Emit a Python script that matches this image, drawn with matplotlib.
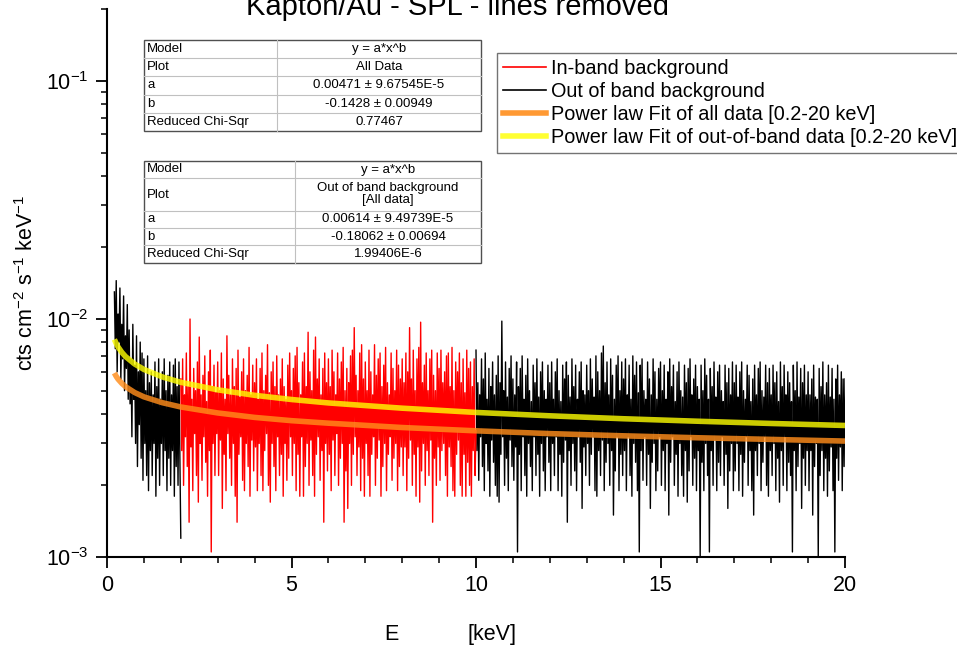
import numpy as np
import matplotlib
matplotlib.use('Agg')
import matplotlib.pyplot as plt
from matplotlib.patches import Rectangle
from matplotlib.lines import Line2D
from matplotlib.ticker import LogLocator, MultipleLocator, NullFormatter

plt.rcParams['font.family'] = ['Liberation Sans', 'DejaVu Sans']
plt.rcParams['mathtext.fontset'] = 'custom'
plt.rcParams['mathtext.rm'] = 'Liberation Sans'
plt.rcParams['mathtext.it'] = 'Liberation Sans:italic'
plt.rcParams['mathtext.default'] = 'regular'

# ---------------- data (units of 1e-3 cts cm^-2 s^-1 keV^-1) ----------------
# Spectra read as the local maximum / minimum in every 0.05 keV bin.
unit = 1e-3
e_bin = 0.05

# out-of-band, low energy: bins 0.20 .. 1.95 keV, last channel at 2.00 keV
oob_low_start = 0.20
oob_low_max = [13.0, 14.5, 10.5, 13.5, 9.5, 12.5, 8.5, 11.5,
               9.0, 6.8, 9.5, 6.4, 8.5, 6.0, 8.0, 7.2,
               6.8, 5.0, 7.0, 5.4, 6.0, 4.8, 6.6, 5.2, 6.8, 4.6, 6.0, 6.8, 5.0, 5.8, 6.6, 4.8, 6.4, 6.8, 5.2, 6.6]
oob_low_min = [7.5, 6.0, 8.0, 5.6, 6.8, 5.0, 6.2, 4.6,
               4.4, 3.2, 4.6, 3.0, 2.4, 3.6, 2.6, 2.1,
               3.0, 2.2, 1.9, 2.8, 2.2, 3.0, 1.8, 2.6, 2.0, 3.0, 2.2, 2.8, 1.9, 2.6, 2.0, 2.8, 1.8, 2.4, 2.0, 2.6]
oob_low_last = 1.2

# in-band: bins 2.00 .. 9.95 keV, last channel at 10.00 keV
inband_start = 2.00
inband_max = [
    5.6, 6.8, 4.8, 7.2, 5.2, 10.0, 4.6, 6.2, 5.0, 6.6, 8.4, 4.8, 5.8, 7.0, 4.5, 6.0, 7.4, 5.2, 6.4, 4.9,
    6.6, 5.0, 7.2, 5.6, 4.6, 8.5, 5.8, 4.8, 6.8, 5.2, 6.2, 7.4, 4.7, 6.0, 6.8, 5.0, 5.8, 7.6, 4.8, 6.4,
    5.4, 6.8, 4.6, 6.2, 7.2, 5.0, 5.8, 7.8, 4.9, 6.0, 6.6, 5.2, 7.0, 4.8, 5.6, 6.8, 5.2, 4.6, 6.4, 7.2,
    5.0, 6.2, 7.0, 7.6, 5.4, 4.8, 6.6, 7.2, 5.2, 8.8, 6.0, 5.0, 7.4, 8.4, 5.6, 6.8, 4.8, 6.2, 7.2, 5.4,
    6.8, 5.2, 7.4, 6.0, 4.8, 7.2, 5.6, 6.6, 7.6, 5.0, 6.2, 5.4, 7.0, 7.4, 9.2, 5.8, 5.0, 7.2, 7.8, 5.6,
    6.6, 5.0, 7.4, 6.0, 4.8, 7.8, 5.8, 6.8, 7.2, 5.2, 6.4, 7.6, 5.4, 4.8, 7.2, 6.2, 5.0, 7.4, 6.4, 5.6,
    6.8, 5.4, 7.2, 6.0, 9.2, 5.6, 7.4, 5.0, 6.8, 7.6, 9.7, 5.4, 6.4, 7.2, 5.0, 6.8, 7.4, 5.8, 5.0, 7.2,
    6.2, 7.4, 5.4, 6.0, 7.0, 7.2, 5.2, 7.6, 5.0, 6.6, 6.0, 7.2, 5.4, 6.8, 4.9, 7.4, 6.2, 6.6, 5.2, 6.8]
inband_min = [
    2.8, 2.0, 3.2, 2.4, 1.4, 2.9, 1.9, 3.3, 2.2, 1.7, 3.0, 2.1, 3.2, 2.5, 1.8, 2.8, 1.05, 3.0, 2.2, 3.3,
    2.2, 3.1, 1.6, 2.7, 1.9, 3.3, 2.6, 2.0, 3.0, 1.8, 1.4, 2.7, 3.2, 2.1, 1.9, 3.0, 2.4, 1.8, 3.1, 2.3,
    2.9, 1.9, 3.0, 2.2, 1.9, 2.8, 3.3, 2.0, 1.7, 3.0, 2.4, 1.9, 3.2, 2.2, 2.7, 1.8, 3.0, 2.1, 2.6, 3.2,
    2.2, 3.0, 1.9, 2.7, 1.8, 3.2, 1.8, 2.4, 3.0, 2.0, 3.1, 2.2, 1.8, 2.7, 3.2, 2.1, 2.8, 1.4, 3.0, 2.3,
    2.7, 1.9, 3.1, 2.2, 3.3, 2.0, 2.6, 3.0, 1.4, 2.3, 1.6, 3.0, 2.0, 2.7, 3.2, 2.2, 2.9, 1.9, 2.6, 1.8,
    3.0, 2.2, 1.8, 2.7, 3.2, 2.0, 2.6, 3.1, 1.8, 2.4, 3.0, 1.9, 2.7, 3.2, 2.1, 2.6, 3.0, 1.9, 2.4, 2.9,
    2.2, 2.9, 1.9, 2.6, 3.1, 2.0, 2.7, 1.8, 2.9, 1.7, 2.3, 3.0, 2.0, 2.8, 2.2, 3.1, 1.4, 2.6, 2.0, 2.9,
    2.1, 2.8, 3.0, 2.2, 1.8, 2.9, 2.4, 1.9, 1.8, 2.7, 3.1, 2.0, 1.8, 2.7, 1.8, 2.5, 2.0, 1.8, 2.8, 2.2]
inband_last = 3.4

# out-of-band, high energy: bins 10.00 .. 19.95 keV, last channel at 20.00 keV
oob_high_start = 10.00
oob_high_max = [
    7.4, 5.4, 4.8, 6.8, 5.6, 7.2, 4.6, 6.2, 5.2, 6.6, 4.8, 5.8, 7.0, 5.4, 9.8, 5.0, 6.6, 4.7, 6.2, 7.0,
    5.6, 4.8, 6.6, 5.2, 6.2, 7.0, 4.6, 5.8, 6.8, 5.0, 4.5, 6.4, 5.4, 6.8, 4.7, 6.0, 6.6, 5.0, 4.6, 6.4,
    5.4, 6.6, 4.6, 6.0, 6.8, 5.0, 4.5, 6.4, 5.6, 6.6, 5.8, 4.7, 6.8, 5.2, 6.4, 4.6, 6.0, 6.6, 5.0, 4.8,
    6.4, 5.0, 6.8, 5.6, 4.7, 7.0, 6.0, 5.0, 7.2, 7.7, 5.4, 6.6, 4.8, 6.8, 5.8, 4.6, 6.4, 7.0, 5.0, 6.6,
    5.6, 6.8, 4.8, 6.4, 4.6, 7.0, 5.8, 6.6, 4.9, 6.4, 6.8, 5.0, 4.6, 6.6, 5.6, 4.8, 6.8, 6.0, 4.6, 6.2,
    6.6, 5.0, 6.4, 4.6, 6.0, 6.8, 5.2, 6.4, 4.5, 6.0, 6.6, 5.0, 4.7, 6.4, 5.4, 6.2, 6.8, 4.8, 5.6, 6.4,
    5.2, 4.6, 6.4, 5.0, 6.8, 5.8, 4.6, 6.2, 5.2, 6.6, 4.7, 6.0, 6.4, 5.0, 4.5, 6.4, 5.4, 6.2, 4.8, 6.6,
    5.4, 6.4, 4.7, 6.0, 6.6, 5.0, 4.6, 6.4, 5.8, 4.5, 5.6, 6.4, 4.8, 6.2, 6.6, 5.0, 4.7, 6.4, 5.4, 6.2,
    4.8, 6.4, 5.4, 6.0, 4.5, 6.6, 5.2, 6.4, 4.8, 6.0, 5.4, 4.5, 6.4, 5.0, 6.6, 4.7, 6.2, 5.4, 6.4, 4.8,
    6.0, 4.8, 5.6, 6.4, 4.7, 4.6, 6.2, 5.2, 6.6, 4.8, 5.4, 6.4, 4.7, 6.2, 4.6, 5.6, 6.4, 4.8, 6.0, 5.6]
oob_high_min = [
    2.8, 2.1, 3.2, 2.4, 1.9, 3.0, 2.3, 1.8, 3.1, 2.5, 2.0, 1.8, 1.7, 2.7, 3.2, 2.0, 2.6, 1.9, 3.1, 2.4,
    2.1, 2.9, 1.05, 2.7, 1.9, 3.2, 2.2, 1.8, 3.0, 2.4, 1.9, 3.2, 2.2, 2.7, 1.8, 3.0, 2.3, 1.9, 3.2, 2.5,
    1.9, 3.0, 2.2, 3.2, 1.9, 2.7, 1.8, 2.5, 3.1, 1.4, 2.8, 2.0, 3.0, 2.3, 1.9, 3.2, 2.5, 1.6, 2.9, 2.2,
    3.0, 2.0, 2.7, 3.2, 1.9, 1.8, 2.8, 2.2, 3.1, 1.9, 2.5, 3.0, 2.0, 2.8, 1.5, 2.3, 3.2, 1.9, 2.7, 2.2,
    2.8, 1.9, 3.2, 2.2, 1.8, 3.0, 2.5, 1.9, 1.05, 2.8, 2.1, 3.2, 2.0, 2.7, 1.6, 2.5, 3.0, 1.9, 2.3, 3.2,
    2.0, 2.8, 1.9, 3.0, 1.5, 2.5, 3.2, 2.0, 2.7, 1.8, 3.0, 2.2, 1.8, 2.8, 1.7, 2.3, 3.2, 2.0, 2.6, 1.9,
    2.8, 1.0, 2.5, 1.9, 3.0, 2.2, 1.05, 2.8, 2.0, 3.1, 1.9, 2.5, 2.2, 3.2, 2.0, 2.7, 1.6, 2.3, 3.0, 1.9,
    2.3, 3.0, 1.9, 2.7, 1.8, 2.5, 3.2, 2.0, 2.8, 1.9, 1.5, 2.8, 2.2, 3.0, 1.9, 2.5, 3.2, 2.0, 1.8, 2.8,
    2.2, 3.0, 1.9, 2.6, 1.7, 2.8, 2.0, 3.2, 1.9, 2.5, 2.2, 1.05, 2.8, 1.9, 2.4, 3.0, 1.6, 2.6, 2.0, 2.8,
    1.9, 2.8, 1.5, 2.4, 3.0, 1.0, 2.2, 2.8, 1.9, 2.6, 1.8, 2.3, 2.9, 1.9, 1.05, 2.6, 2.1, 2.9, 1.9, 2.4]
oob_high_last = 5.6

# power-law fit curves read at sample energies
fit_E = [0.2, 0.25, 0.3, 0.4, 0.5, 0.75, 1, 1.5, 2, 3, 4, 5, 6, 8, 10, 12, 14, 16, 18, 20]
fit_all = [5.93, 5.74, 5.59, 5.37, 5.20, 4.91, 4.71, 4.45, 4.27, 4.03, 3.86, 3.74, 3.65, 3.50,
           3.39, 3.30, 3.23, 3.17, 3.12, 3.07]
fit_oob = [8.21, 7.89, 7.63, 7.25, 6.96, 6.47, 6.14, 5.71, 5.42, 5.04, 4.78, 4.59, 4.44, 4.22,
           4.05, 3.92, 3.81, 3.72, 3.64, 3.57]

legend_labels = ['In-band background', 'Out of band background',
                 'Power law Fit of all data [0.2-20 keV]',
                 'Power law Fit of out-of-band data [0.2-20 keV]']

table1 = [('Model', 'y = a*x^b'), ('Plot', 'All Data'),
          ('a', '0.00471 \u00b1 9.67545E-5'), ('b', '-0.1428 \u00b1 0.00949'),
          ('Reduced Chi-Sqr', '0.77467')]
table2 = [('Model', 'y = a*x^b'), ('Plot', 'Out of band background\n[All data]'),
          ('a', '0.00614 \u00b1 9.49739E-5'), ('b', '-0.18062 \u00b1 0.00694'),
          ('Reduced Chi-Sqr', '1.99406E-6')]

title = 'Kapton/Au - SPL - lines removed'


def spectrum(start, vmax, vmin, last):
    """Channel trace: max and min of each bin, alternating, then the last channel."""
    n = len(vmax)
    e = start + e_bin * np.arange(n)
    x = np.empty(2 * n + 1)
    y = np.empty(2 * n + 1)
    x[0:2 * n:2] = e
    x[1:2 * n:2] = e + e_bin / 2
    x[-1] = start + e_bin * n
    y[0:2 * n:2] = vmax
    y[1:2 * n:2] = vmin
    y[-1] = last
    return x, y * unit


# ---------------- figure ----------------
W, H = 957, 645
fig = plt.figure(figsize=(W / 100, H / 100), dpi=100)
ax = fig.add_axes([107 / W, 1 - 557 / H, (845 - 107) / W, (557 - 9.4) / H])

data_lw = 1.0
x, y = spectrum(oob_low_start, oob_low_max, oob_low_min, oob_low_last)
ax.plot(x, y, color='black', lw=data_lw, zorder=2)
x, y = spectrum(oob_high_start, oob_high_max, oob_high_min, oob_high_last)
ax.plot(x, y, color='black', lw=data_lw, zorder=2)
x, y = spectrum(inband_start, inband_max, inband_min, inband_last)
ax.plot(x, y, color='#ff0000', lw=data_lw, zorder=3)
ax.plot(fit_E, np.array(fit_all) * unit, color='#ff8c1a', lw=4, alpha=0.82, zorder=4,
        solid_capstyle='butt')
ax.plot(fit_E, np.array(fit_oob) * unit, color='#ffff00', lw=4, alpha=0.8, zorder=5,
        solid_capstyle='butt')

ax.set_yscale('log')
ax.set_xlim(0, 20)
ax.set_ylim(1e-3, 0.2)
for s in ['top', 'right']:
    ax.spines[s].set_visible(False)
for s in ['left', 'bottom']:
    ax.spines[s].set_linewidth(1.5)
ax.xaxis.set_major_locator(MultipleLocator(5))
ax.xaxis.set_minor_locator(MultipleLocator(1))
ax.yaxis.set_major_locator(LogLocator(base=10, numticks=10))
ax.yaxis.set_minor_locator(LogLocator(base=10, subs=np.arange(2, 10), numticks=20))
ax.yaxis.set_minor_formatter(NullFormatter())
ax.tick_params(which='major', direction='out', length=8, width=1.3, labelsize=15.5, pad=5)
ax.tick_params(which='minor', direction='out', length=4.5, width=1.1)
ax.set_ylabel('cts cm$^{-2}$ s$^{-1}$ keV$^{-1}$', fontsize=15.5, labelpad=6)

# overlay in pixel coordinates
ov = fig.add_axes([0, 0, 1, 1], zorder=10)
ov.set_xlim(0, W)
ov.set_ylim(H, 0)
ov.axis('off')
ov.patch.set_alpha(0)

ov.text(457, 15, title, fontsize=21, ha='center', va='baseline')
ov.text(391, 640, 'E', fontsize=15.5, ha='center', va='baseline')
ov.text(492, 640, '[keV]', fontsize=15.5, ha='center', va='baseline')


def draw_table(rows, x0, xs, x1, ybounds):
    y0, y1 = ybounds[0], ybounds[-1]
    ov.add_patch(Rectangle((x0, y0), x1 - x0, y1 - y0, facecolor='white',
                           edgecolor='#505050', lw=1.0, zorder=1))
    for yb in ybounds[1:-1]:
        ov.add_line(Line2D([x0, x1], [yb, yb], color='#c0c0c0', lw=0.8, zorder=2))
    ov.add_line(Line2D([xs, xs], [y0, y1], color='#c0c0c0', lw=0.8, zorder=2))
    for i, (k, v) in enumerate(rows):
        yc = (ybounds[i] + ybounds[i + 1]) / 2
        ov.text(x0 + 3, yc, k, fontsize=9.5, ha='left', va='center', zorder=3)
        ov.text((xs + x1) / 2, yc, v, fontsize=9.5, ha='center', va='center', zorder=3,
                linespacing=1.0, multialignment='center')


draw_table(table1, 144, 277, 481, [40, 58, 76, 95, 113, 131])
draw_table(table2, 144, 295, 481, [161, 178, 211, 228, 245, 263])

handles = [Line2D([], [], color='#ff0000', lw=1.2),
           Line2D([], [], color='black', lw=1.2),
           Line2D([], [], color='#ff9933', lw=4),
           Line2D([], [], color='#ffff33', lw=4)]
leg = fig.legend(handles, legend_labels, loc='upper left',
                 bbox_to_anchor=(497 / W, 1 - 53 / H), bbox_transform=fig.transFigure,
                 fontsize=14.3, frameon=True, fancybox=False, borderpad=0.3,
                 handlelength=2.15, handletextpad=0.25, labelspacing=0.2,
                 borderaxespad=0)
leg.get_frame().set_edgecolor('#505050')
leg.get_frame().set_linewidth(1.0)

fig.savefig('out.png', dpi=100)
